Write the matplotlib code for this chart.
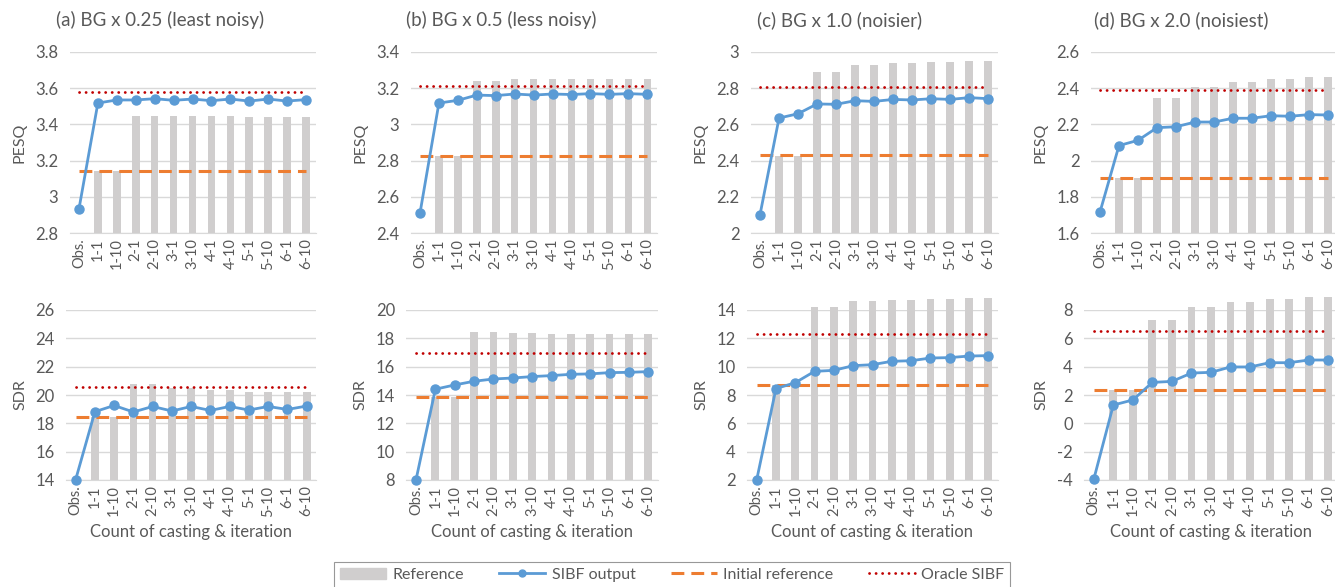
import numpy as np
import matplotlib
matplotlib.use('Agg')
import matplotlib.pyplot as plt
from matplotlib.patches import Patch
from matplotlib.lines import Line2D

plt.rcParams['font.family'] = ['Lato', 'DejaVu Sans']

cats = ['Obs.', '1-1', '1-10', '2-1', '2-10', '3-1', '3-10',
        '4-1', '4-10', '5-1', '5-10', '6-1', '6-10']
titles = ['(a) BG x 0.25 (least noisy)', '(b) BG x 0.5 (less noisy)',
          '(c) BG x 1.0 (noisier)', '(d) BG x 2.0 (noisiest)']

# PESQ -- SIBF output (13 pts), reference bars (12, no bar for Obs.), initial, oracle
pesq_out_a = [2.933, 3.518, 3.535, 3.535, 3.542, 3.533, 3.540, 3.531, 3.540, 3.529, 3.540, 3.529, 3.537]
pesq_out_b = [2.509, 3.118, 3.133, 3.162, 3.159, 3.168, 3.162, 3.168, 3.165, 3.170, 3.166, 3.170, 3.166]
pesq_out_c = [2.101, 2.635, 2.659, 2.713, 2.711, 2.731, 2.727, 2.738, 2.735, 2.742, 2.738, 2.748, 2.742]
pesq_out_d = [1.716, 2.083, 2.112, 2.182, 2.187, 2.213, 2.213, 2.234, 2.234, 2.248, 2.245, 2.254, 2.252]

pesq_ref_a = [3.141, 3.141, 3.446, 3.446, 3.446, 3.446, 3.445, 3.445, 3.443, 3.443, 3.441, 3.441]
pesq_ref_b = [2.827, 2.827, 3.238, 3.238, 3.251, 3.251, 3.253, 3.253, 3.253, 3.253, 3.253, 3.253]
pesq_ref_c = [2.427, 2.427, 2.891, 2.891, 2.926, 2.926, 2.941, 2.941, 2.947, 2.947, 2.950, 2.950]
pesq_ref_d = [1.904, 1.904, 2.348, 2.348, 2.407, 2.407, 2.436, 2.436, 2.451, 2.451, 2.464, 2.464]

pesq_init = [3.141, 2.827, 2.431, 1.904]
pesq_oracle = [3.581, 3.210, 2.805, 2.392]

# SDR
sdr_out_a = [14.02, 18.82, 19.26, 18.80, 19.19, 18.87, 19.19, 18.91, 19.19, 18.94, 19.19, 18.98, 19.22]
sdr_out_b = [8.00, 14.41, 14.71, 14.97, 15.13, 15.20, 15.30, 15.37, 15.46, 15.49, 15.58, 15.60, 15.65]
sdr_out_c = [2.00, 8.45, 8.87, 9.67, 9.74, 10.07, 10.14, 10.38, 10.42, 10.61, 10.64, 10.75, 10.78]
sdr_out_d = [-3.95, 1.29, 1.65, 2.89, 2.96, 3.55, 3.60, 3.98, 3.98, 4.28, 4.28, 4.47, 4.47]

sdr_ref_a = [18.44, 18.44, 20.81, 20.81, 20.48, 20.48, 20.32, 20.32, 20.22, 20.22, 20.18, 20.18]
sdr_ref_b = [13.85, 13.85, 18.46, 18.46, 18.39, 18.39, 18.34, 18.34, 18.32, 18.32, 18.32, 18.32]
sdr_ref_c = [8.68, 8.68, 14.24, 14.24, 14.64, 14.64, 14.73, 14.73, 14.80, 14.80, 14.82, 14.82]
sdr_ref_d = [2.37, 2.37, 7.29, 7.29, 8.19, 8.19, 8.54, 8.54, 8.75, 8.75, 8.89, 8.89]

sdr_init = [18.44, 13.85, 8.68, 2.37]
sdr_oracle = [20.57, 16.98, 12.31, 6.54]

pesq_lims = [(2.8, 3.8), (2.4, 3.4), (2.0, 3.0), (1.6, 2.6)]
sdr_lims = [(14, 26), (8, 20), (2, 14), (-4, 8)]

BAR = '#D0CECE'
BLUE = '#5B9BD5'
ORANGE = '#ED7D31'
RED = '#C00000'
TXT = '#595959'
GRID = '#D9D9D9'

W, H = 1335, 587
fig = plt.figure(figsize=(W / 100, H / 100), dpi=100)

# pixel boxes (left, right) for each panel
top_x = [(69.5, 315.5), (410.5, 656.8), (750.5, 997.8), (1090.5, 1337.5)]
bot_x = [(66, 316.3), (406.3, 658), (747, 998), (1084, 1338)]
top_y = (52, 233)
bot_y = (310, 480)


def make_ax(xr, yr):
    return fig.add_axes([xr[0] / W, 1 - yr[1] / H, (xr[1] - xr[0]) / W, (yr[1] - yr[0]) / H])


def draw(ax, out, ref, init, oracle, lims, step, ylabel, xlabel=False):
    x = np.arange(len(cats))
    ymin, ymax = lims
    ref = np.array(ref)
    ax.bar(x[1:], ref - ymin, bottom=ymin, width=0.4, color=BAR, zorder=2, clip_on=False)
    ax.plot([x[0], x[-1]], [init, init], color=ORANGE, lw=2.2, dashes=(4.2, 2.3), zorder=3)
    ax.plot([x[0], x[-1]], [oracle, oracle], color=RED, lw=2.0, dashes=(0.05, 2.3),
            dash_capstyle='round', zorder=3)
    ax.plot(x, out, color=BLUE, lw=2.0, marker='o', ms=6.5, zorder=4, clip_on=False)
    ax.set_xlim(-0.5, len(cats) - 0.5)
    ax.set_ylim(ymin, ymax)
    ticks = np.round(np.arange(ymin, ymax + step / 2, step), 3)
    ax.set_yticks(ticks)
    ax.set_yticklabels(['%g' % t for t in ticks])
    ax.set_xticks(x)
    ax.set_xticklabels(cats, rotation=90)
    ax.grid(axis='y', color=GRID, lw=1.0, zorder=0)
    ax.set_axisbelow(True)
    for s in ['top', 'right', 'left']:
        ax.spines[s].set_visible(False)
    ax.spines['bottom'].set_color(GRID)
    ax.tick_params(length=0, colors=TXT)
    ax.tick_params(axis='y', labelsize=12, pad=8)
    ax.tick_params(axis='x', labelsize=10.5, pad=4)
    ax.set_ylabel(ylabel, color=TXT, fontsize=11.5, labelpad=6)
    if xlabel:
        ax.set_xlabel('Count of casting & iteration', color=TXT, fontsize=12, labelpad=5)


pesq_out = [pesq_out_a, pesq_out_b, pesq_out_c, pesq_out_d]
pesq_ref = [pesq_ref_a, pesq_ref_b, pesq_ref_c, pesq_ref_d]
sdr_out = [sdr_out_a, sdr_out_b, sdr_out_c, sdr_out_d]
sdr_ref = [sdr_ref_a, sdr_ref_b, sdr_ref_c, sdr_ref_d]
title_cx = [160, 501, 840, 1181]

for i in range(4):
    ax1 = make_ax(top_x[i], top_y)
    draw(ax1, pesq_out[i], pesq_ref[i], pesq_init[i], pesq_oracle[i], pesq_lims[i], 0.2, 'PESQ')
    fig.text(title_cx[i] / W, 1 - 20 / H, titles[i], ha='center', va='center',
             color=TXT, fontsize=13.5)
    ax2 = make_ax(bot_x[i], bot_y)
    draw(ax2, sdr_out[i], sdr_ref[i], sdr_init[i], sdr_oracle[i], sdr_lims[i], 2, 'SDR', xlabel=True)

handles = [Patch(color=BAR),
           Line2D([], [], color=BLUE, lw=2.0, marker='o', ms=5),
           Line2D([], [], color=ORANGE, lw=2.2, dashes=(4.2, 2.3)),
           Line2D([], [], color=RED, lw=2.0, dashes=(0.05, 2.3), dash_capstyle='round')]
labels = ['Reference', 'SIBF output', 'Initial reference', 'Oracle SIBF']
leg = fig.legend(handles, labels, ncol=4, loc='center', bbox_to_anchor=(672 / W, 1 - 575 / H),
                 frameon=True, fancybox=False, fontsize=11.5, handlelength=2.9,
                 handletextpad=0.4, columnspacing=2.2, borderpad=0.35, borderaxespad=0)
leg.get_frame().set_edgecolor('#7F7F7F')
leg.get_frame().set_linewidth(0.8)
for t in leg.get_texts():
    t.set_color(TXT)

fig.savefig('out.png', dpi=100)
